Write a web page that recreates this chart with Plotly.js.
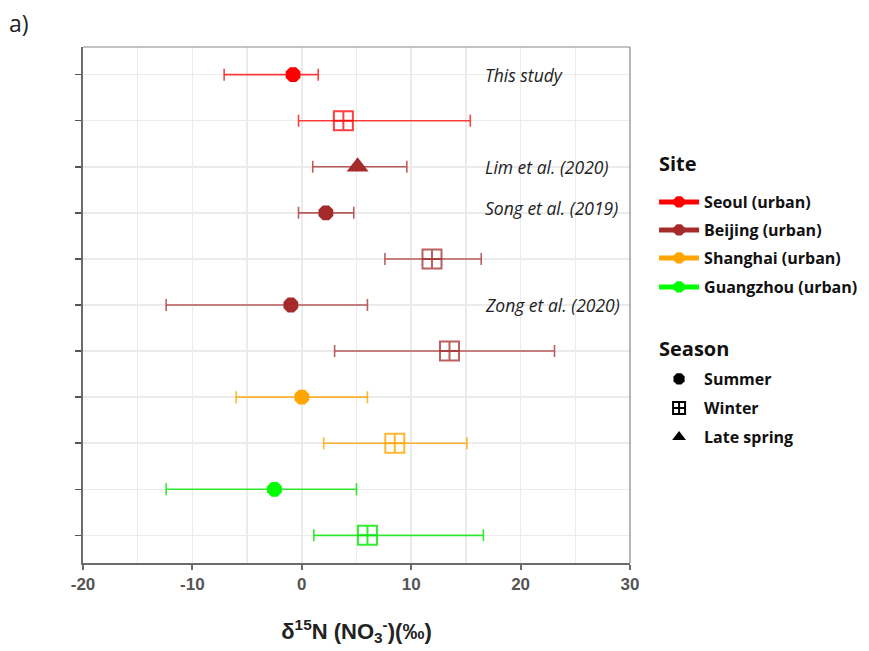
<!DOCTYPE html>
<html>
<head>
<meta charset="utf-8">
<script src="https://cdn.plot.ly/plotly-3.0.1.min.js"></script>
<style>html,body{margin:0;padding:0;background:#fff;}#chart{width:869px;height:651px;}</style>
</head>
<body>
<div id="chart"></div>
<script>
// ---- data (top to bottom) ----
const rowPos   = [1, 2, 3, 4, 5, 6, 7, 8, 9, 10, 11];
const rowSite  = ["Seoul (urban)","Seoul (urban)","Beijing (urban)","Beijing (urban)","Beijing (urban)","Beijing (urban)","Beijing (urban)","Shanghai (urban)","Shanghai (urban)","Guangzhou (urban)","Guangzhou (urban)"];
const rowSeason= ["Summer","Winter","Late spring","Summer","Winter","Summer","Winter","Summer","Winter","Summer","Winter"];
const rowMean  = [-0.8, 3.8, 5.1, 2.2, 11.9, -1.0, 13.5, 0.0, 8.5, -2.5, 6.0];
const rowLow   = [-7.1, -0.3, 1.0, -0.3, 7.6, -12.4, 3.0, -6.0, 2.0, -12.4, 1.1];
const rowHigh  = [1.5, 15.4, 9.6, 4.75, 16.4, 6.0, 23.1, 6.0, 15.1, 5.0, 16.6];

const siteNames   = ["Seoul (urban)","Beijing (urban)","Shanghai (urban)","Guangzhou (urban)"];
const siteColors  = ["#FF0000","#A52A2A","#FFA500","#00FF00"];
const siteErrCols = ["rgba(255,0,0,0.75)","rgba(165,42,42,0.75)","rgba(255,165,0,0.8)","rgba(0,230,0,0.8)"];
const seasonNames = ["Summer","Winter","Late spring"];
const seasonSymbols = ["octagon","square-cross-open","triangle-up"];
const seasonSizes = [16, 19, 19];

const refLabels = ["This study","Lim et al. (2020)","Song et al. (2019)","Zong et al. (2020)"];
const refRows   = [1, 3, 3.9, 6];

const xTicks = [-20, -10, 0, 10, 20, 30];

// ---- geometry helpers (paper fractions of the legend rows) ----
const plotTop = 47, plotBottom = 563;
const pyFrac = p => (plotBottom - p) / (plotBottom - plotTop);
const siteItemPx   = [202, 230, 258, 287];
const seasonItemPx = [379, 408, 437];
const legendX = 1.044;
const legendTitleX = 1.049;

// ---- traces ----
const traces = [];
for (let i = 0; i < rowPos.length; i++) {
  const si = siteNames.indexOf(rowSite[i]);
  const ki = seasonNames.indexOf(rowSeason[i]);
  traces.push({
    type: "scatter", mode: "markers",
    x: [rowMean[i]], y: [rowPos[i]],
    showlegend: false, hoverinfo: "x",
    marker: {
      symbol: seasonSymbols[ki], size: seasonSizes[ki],
      color: ki === 1 ? siteErrCols[si] : siteColors[si],
      line: {color: ki === 1 ? siteErrCols[si] : siteColors[si], width: ki === 1 ? 2 : 0}
    },
    error_x: {
      type: "data", symmetric: false,
      array: [rowHigh[i] - rowMean[i]], arrayminus: [rowMean[i] - rowLow[i]],
      color: siteErrCols[si], thickness: 1.6, width: 6
    }
  });
}

const layout = {
  width: 869, height: 651,
  margin: {l: 83, r: 239, t: 47, b: 88, autoexpand: false},
  paper_bgcolor: "#fff", plot_bgcolor: "#fff",
  showlegend: true,
  xaxis: {
    range: [-20, 30], tickvals: xTicks, ticktext: xTicks.map(String),
    showgrid: true, gridcolor: "#ebebeb", gridwidth: 1.5,
    minor: {dtick: 5, showgrid: true, gridcolor: "#ebebeb", gridwidth: 1.5},
    zeroline: false, showline: true, linecolor: "#6b6b6b", linewidth: 2,
    ticks: "outside", ticklen: 5, tickcolor: "#6b6b6b", tickwidth: 2,
    tickfont: {family: "Liberation Sans", size: 17, color: "#555", weight: "bold"},
    title: {text: "δ<sup>15</sup>N (NO<sub>3</sub><sup>-</sup>)(‰)", standoff: 30,
            font: {family: "Liberation Sans", size: 22, color: "#222", weight: "bold"}}
  },
  yaxis: {
    range: [11.6, 0.4], tickvals: rowPos, showticklabels: false,
    showgrid: true, gridcolor: "#ebebeb", gridwidth: 1.5,
    zeroline: false, showline: true, linecolor: "#6b6b6b", linewidth: 2,
    ticks: "outside", ticklen: 6, tickcolor: "#555", tickwidth: 1.5
  },
  shapes: [
    {type: "line", xref: "paper", yref: "paper", x0: 0, x1: 1, y0: 1, y1: 1, line: {color: "#888", width: 1.2}},
    {type: "line", xref: "paper", yref: "paper", x0: 1, x1: 1, y0: 0, y1: 1, line: {color: "#888", width: 1.2}}
  ],
  annotations: []
};

const legendFont = {family: "Open Sans", size: 16, color: "#111", weight: "bold"};
let legIdx = 0;
function addLegend(pxY) {
  legIdx += 1;
  const key = legIdx === 1 ? "legend" : "legend" + legIdx;
  layout[key] = {
    x: legendX, xanchor: "left", y: pyFrac(pxY), yanchor: "middle",
    font: legendFont, itemwidth: 40, itemsizing: "constant",
    bgcolor: "rgba(0,0,0,0)", borderwidth: 0
  };
  return key;
}
// legend entries: Site
siteNames.forEach((n, i) => {
  traces.push({
    type: "scatter", mode: "lines+markers", x: [null], y: [null], name: n,
    legend: addLegend(siteItemPx[i]),
    marker: {symbol: "octagon", size: 14, color: siteColors[i]},
    line: {color: siteColors[i], width: 1.5}
  });
});
// legend entries: Season
seasonNames.forEach((n, i) => {
  traces.push({
    type: "scatter", mode: "markers", x: [null], y: [null], name: n,
    legend: addLegend(seasonItemPx[i]),
    marker: {symbol: seasonSymbols[i], size: i === 0 ? 15 : 16, color: "#000",
             line: {color: "#000", width: i === 1 ? 1.2 : 0}}
  });
});

// legend group titles
[["Site", 164], ["Season", 349]].forEach(([t, p]) => {
  layout.annotations.push({
    x: legendTitleX, y: pyFrac(p), xref: "paper", yref: "paper", xanchor: "left", yanchor: "middle",
    text: "<b>" + t + "</b>", showarrow: false,
    font: {family: "Open Sans", size: 20, color: "#111"}
  });
});

refLabels.forEach((t, i) => {
  layout.annotations.push({
    x: 16.6, y: refRows[i], xref: "x", yref: "y",
    text: "<i>" + t + "</i>", showarrow: false, xanchor: "left", yanchor: "middle",
    font: {family: "Open Sans", size: 17.5, color: "#222"}
  });
});
layout.annotations.push({
  x: 0, y: 1, xref: "paper", yref: "paper", xanchor: "left", yanchor: "top",
  text: "a)", showarrow: false, xshift: -76, yshift: 42,
  font: {family: "Open Sans", size: 23, color: "#222"}
});

Plotly.newPlot("chart", traces, layout, {displayModeBar: false, staticPlot: true});
</script>
</body>
</html>
